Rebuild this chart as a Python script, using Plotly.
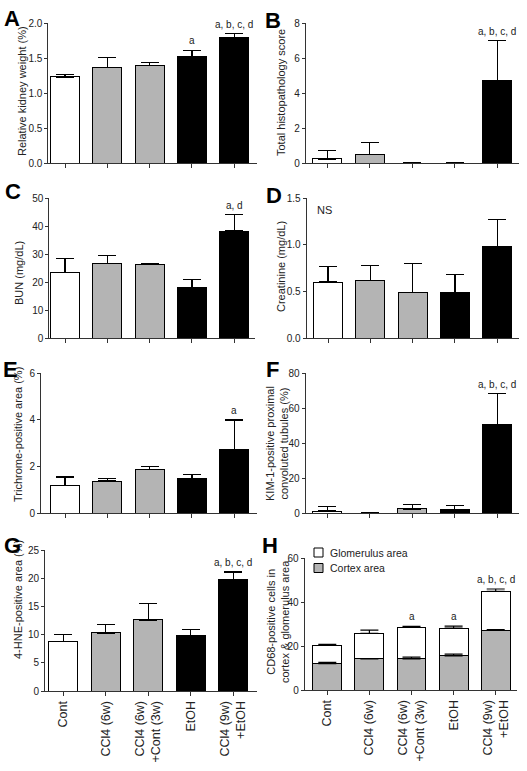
import plotly.graph_objects as go

# ---------------- data ----------------
categories = ["Cont", "CCl4 (6w)", "CCl4 (6w)<br>+Cont (3w)", "EtOH", "CCl4 (9w)<br>+EtOH"]

kidney_weight = [1.23, 1.37, 1.39, 1.52, 1.79]
kidney_weight_err = [0.03, 0.14, 0.05, 0.09, 0.06]

histo_score = [0.23, 0.47, 0.0, 0.0, 4.70]
histo_score_err = [0.49, 0.71, 0.0, 0.0, 2.28]

bun = [23.4, 26.6, 26.3, 18.0, 38.2]
bun_err = [4.9, 2.9, 0.3, 3.0, 5.9]

creatinine = [0.60, 0.62, 0.49, 0.49, 0.98]
creatinine_err = [0.17, 0.16, 0.31, 0.19, 0.29]

trichrome = [1.19, 1.37, 1.88, 1.49, 2.73]
trichrome_err = [0.35, 0.11, 0.12, 0.17, 1.26]

kim1 = [1.1, 0.0, 2.3, 1.9, 50.6]
kim1_err = [2.5, 0.0, 2.6, 2.3, 17.6]

hne = [8.8, 10.3, 12.6, 9.8, 19.7]
hne_err = [1.2, 1.5, 2.9, 1.1, 1.4]

cd68_cortex = [12.0, 14.1, 14.1, 15.5, 27.2]
cd68_cortex_err = [0.6, 0.2, 0.8, 0.8, 0.3]
cd68_glomerulus = [8.4, 11.6, 14.5, 12.6, 17.6]
cd68_total_err = [0.4, 1.5, 0.3, 0.9, 1.1]

sig_A = {3: "a", 4: "a, b, c, d"}
sig_B = {4: "a, b, c, d"}
sig_C = {4: "a, d"}
sig_D = {}
sig_E = {4: "a"}
sig_F = {4: "a, b, c, d"}
sig_G = {4: "a, b, c, d"}
sig_H = {2: "a", 3: "a", 4: "a, b, c, d"}

# ---------------- style ----------------
W, H = 527, 771
FONT = "Liberation Sans, Arial, sans-serif"
TXT = "#222222"
LINE = "#333333"
GRAY = "#b4b4b4"
bar_colors = ["white", GRAY, GRAY, "black", "black"]


def xp(px):
    return px / W


def yp(py):
    return 1 - py / H


panels = [
    dict(letter="A", vals=kidney_weight, errs=kidney_weight_err, sig=sig_A,
         title="Relative kidney weight (%)", ymax=2.0, dtick=0.5, fmt=".1f",
         left=48.3, right=257, cat0=65, step=42.3, top=23, bottom=163,
         title_xy=(22, 91), letter_xy=(12, 18)),
    dict(letter="B", vals=histo_score, errs=histo_score_err, sig=sig_B,
         title="Total histopathology score", ymax=8, dtick=2, fmt="",
         left=305.7, right=519, cat0=327.3, step=42.5, top=23, bottom=163,
         title_xy=(281, 93), letter_xy=(273, 20)),
    dict(letter="C", vals=bun, errs=bun_err, sig=sig_C,
         title="BUN (mg/dL)", ymax=50, dtick=10, fmt="",
         left=49.3, right=255, cat0=65, step=42.3, top=198, bottom=338,
         title_xy=(19, 273), letter_xy=(13, 191)),
    dict(letter="D", vals=creatinine, errs=creatinine_err, sig=sig_D,
         title="Creatinine (mg/dL)", ymax=1.5, dtick=0.5, fmt=".1f",
         left=306.7, right=519, cat0=328, step=42.3, top=198, bottom=338,
         title_xy=(281, 267), letter_xy=(274, 195)),
    dict(letter="E", vals=trichrome, errs=trichrome_err, sig=sig_E,
         title="Trichrome-positive area (%)", ymax=6, dtick=2, fmt="",
         left=41, right=257, cat0=65, step=42.3, top=373, bottom=513,
         title_xy=(18, 435), letter_xy=(10, 369)),
    dict(letter="F", vals=kim1, errs=kim1_err, sig=sig_F,
         title="KIM-1-positive proximal<br>convoluted tubules (%)", ymax=80, dtick=20, fmt="",
         left=305.7, right=519, cat0=327.3, step=42.5, top=373, bottom=513,
         title_xy=(277, 444), letter_xy=(272, 369)),
    dict(letter="G", vals=hne, errs=hne_err, sig=sig_G,
         title="4-HNE-positive area (%)", ymax=25, dtick=5, fmt="",
         left=45, right=257, cat0=63.3, step=42.5, top=550, bottom=691,
         title_xy=(18, 600), letter_xy=(12, 545)),
    dict(letter="H", vals=None, errs=None, sig=sig_H,
         title="CD68-positive cells in<br>cortex & glomerulus area", ymax=60, dtick=20, fmt="",
         left=304.7, right=517, cat0=327.3, step=42.1, top=558, bottom=690,
         title_xy=(278, 622), letter_xy=(270, 545)),
]

fig = go.Figure()
layout = dict(
    width=W, height=H, margin=dict(l=0, r=0, t=0, b=0),
    paper_bgcolor="white", plot_bgcolor="white", template="none",
    barmode="stack", bargap=0.315, showlegend=False,
    font=dict(family=FONT, color=TXT, size=10),
)
annotations = []
shapes = []

err_style = dict(type="data", symmetric=False, color="black", thickness=1.2, width=9)

for i, p in enumerate(panels, start=1):
    sfx = "" if i == 1 else str(i)
    xa, ya = "x" + sfx, "y" + sfx
    bottom_row = p["letter"] in ("G", "H")

    if p["letter"] != "H":
        fig.add_trace(go.Bar(
            x=categories, y=p["vals"], xaxis=xa, yaxis=ya,
            marker=dict(color=bar_colors, line=dict(color="black", width=1)),
            error_y=dict(array=p["errs"], arrayminus=[0] * 5, **err_style),
            showlegend=False, hoverinfo="skip",
        ))
        tops = [v + e for v, e in zip(p["vals"], p["errs"])]
    else:
        totals = [c + g for c, g in zip(cd68_cortex, cd68_glomerulus)]
        fig.add_trace(go.Bar(
            x=categories, y=cd68_cortex, xaxis=xa, yaxis=ya, name="Cortex area",
            marker=dict(color=GRAY, line=dict(color="black", width=1)),
            showlegend=False, hoverinfo="skip",
        ))
        fig.add_trace(go.Bar(
            x=categories, y=cd68_glomerulus, xaxis=xa, yaxis=ya, name="Glomerulus area",
            marker=dict(color="white", line=dict(color="black", width=1)),
            showlegend=False, hoverinfo="skip",
        ))
        for yy, ee in ((cd68_cortex, cd68_cortex_err), (totals, cd68_total_err)):
            fig.add_trace(go.Scatter(
                x=categories, y=yy, xaxis=xa, yaxis=ya, mode="markers",
                marker=dict(size=1, color="rgba(0,0,0,0)"),
                error_y=dict(array=ee, arrayminus=[0] * 5, **err_style),
                showlegend=False, hoverinfo="skip",
            ))
        tops = [t + e for t, e in zip(totals, cd68_total_err)]

    r0 = (p["left"] - p["cat0"]) / p["step"]
    r1 = (p["right"] - p["cat0"]) / p["step"]
    layout["xaxis" + sfx] = dict(
        domain=[xp(p["left"]), xp(p["right"])], anchor=ya,
        type="category", categoryorder="array", categoryarray=categories,
        range=[r0, r1], showline=True, linecolor=LINE, linewidth=1,
        ticks="outside", ticklen=4, tickcolor=LINE, tickwidth=1,
        showgrid=False, zeroline=False, automargin=False,
        showticklabels=bottom_row, tickangle=-90,
        tickfont=dict(family=FONT, size=12.5, color=TXT),
    )
    layout["yaxis" + sfx] = dict(
        domain=[yp(p["bottom"]), yp(p["top"])], anchor=xa,
        range=[0, p["ymax"]], dtick=p["dtick"], tick0=0, tickformat=p["fmt"],
        showline=True, linecolor=LINE, linewidth=1,
        ticks="outside", ticklen=3, tickcolor=LINE, tickwidth=1,
        showgrid=False, zeroline=False, automargin=False,
        tickfont=dict(family=FONT, size=10, color=TXT),
    )

    # axis title
    annotations.append(dict(
        x=xp(p["title_xy"][0]), y=yp(p["title_xy"][1]), xref="paper", yref="paper",
        text=p["title"], textangle=-90, showarrow=False, xanchor="center", yanchor="middle",
        font=dict(family=FONT, size=11, color=TXT),
    ))
    # panel letter
    annotations.append(dict(
        x=xp(p["letter_xy"][0]), y=yp(p["letter_xy"][1]), xref="paper", yref="paper",
        text="<b>%s</b>" % p["letter"], showarrow=False, xanchor="center", yanchor="middle",
        font=dict(family=FONT, size=22, color="black"),
    ))
    # significance letters
    for idx, lab in p["sig"].items():
        annotations.append(dict(
            x=categories[idx], y=tops[idx], xref=xa, yref=ya, text=lab,
            showarrow=False, xanchor="center", yanchor="bottom", yshift=2,
            font=dict(family=FONT, size=10, color=TXT),
        ))

# NS label in panel D
annotations.append(dict(
    x=xp(324), y=yp(210), xref="paper", yref="paper", text="NS", showarrow=False,
    xanchor="center", yanchor="middle", font=dict(family=FONT, size=11, color=TXT),
))

# legend for panel H
legend_items = [("Glomerulus area", "white", 552.5), ("Cortex area", GRAY, 568)]
for lab, col, cy in legend_items:
    shapes.append(dict(
        type="rect", xref="paper", yref="paper",
        x0=xp(314), x1=xp(323), y0=yp(cy + 4.5), y1=yp(cy - 4.5),
        fillcolor=col, line=dict(color="black", width=1),
    ))
    annotations.append(dict(
        x=xp(328), y=yp(cy), xref="paper", yref="paper", text=lab, showarrow=False,
        xanchor="left", yanchor="middle", font=dict(family=FONT, size=10.5, color=TXT),
    ))

layout["annotations"] = annotations
layout["shapes"] = shapes
fig.update_layout(**layout)

fig.write_html(
    "out.html",
    config={"displayModeBar": False},
    post_script="document.body.style.margin='0';document.body.style.overflow='hidden';",
)
